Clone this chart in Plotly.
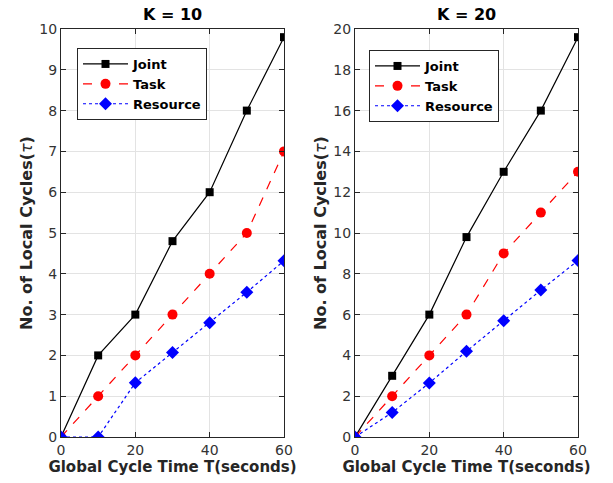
import plotly.graph_objects as go
from plotly.subplots import make_subplots

x_vals = [0, 10, 20, 30, 40, 50, 60]

k10_joint = [0, 2, 3, 4.8, 6, 8, 9.8]
k10_task = [0, 1, 2, 3, 4, 5, 7]
k10_resource = [0, 0, 1.33, 2.07, 2.8, 3.55, 4.32]

k20_joint = [0, 3, 6, 9.8, 13, 16, 19.6]
k20_task = [0, 2, 4, 6, 9, 11, 13]
k20_resource = [0, 1.2, 2.65, 4.2, 5.7, 7.2, 8.65]

titles = ["K = 10", "K = 20"]
series_names = ["Joint", "Task", "Resource"]
x_ticks = [0, 20, 40, 60]
k10_ticks = list(range(0, 11, 1))
k20_ticks = list(range(0, 21, 2))

W, H = 613, 483
fig = make_subplots(rows=1, cols=2)

styles = [
    dict(color="black", dash="solid", symbol="square", size=8),
    dict(color="red", dash="dash", symbol="circle", size=10),
    dict(color="blue", dash="dot", symbol="diamond", size=10),
]

data = [[k10_joint, k10_task, k10_resource], [k20_joint, k20_task, k20_resource]]
for c, group in enumerate(data):
    for name, ys, st in zip(series_names, group, styles):
        fig.add_trace(
            go.Scatter(
                x=x_vals, y=ys, name=name, mode="lines+markers",
                line=dict(color=st["color"], dash=st["dash"], width=1.2),
                marker=dict(color=st["color"], symbol=st["symbol"], size=st["size"]),
                legend="legend" if c == 0 else "legend2",
                showlegend=True,
            ),
            row=1, col=c + 1,
        )

ydom = [1 - 437 / H, 1 - 29 / H]
xdoms = [[61 / W, 284 / W], [355 / W, 578 / W]]
tickfont = dict(family="DejaVu Sans", size=14, color="#333333")
titlefont = dict(family="DejaVu Sans", size=15, color="#262626")

for i in range(2):
    ax = "" if i == 0 else "2"
    fig.layout["xaxis" + ax].update(
        domain=xdoms[i], range=[0, 60], tickvals=x_ticks, automargin=False,
        showline=True, linecolor="#262626", linewidth=1, mirror="ticks",
        ticks="inside", ticklen=5, tickcolor="#262626",
        showgrid=True, gridcolor="#e3e3e3", zeroline=False,
        tickfont=tickfont,
        title=dict(text="<b>Global Cycle Time T(seconds)</b>", font=titlefont, standoff=2),
    )
    yticks = k10_ticks if i == 0 else k20_ticks
    fig.layout["yaxis" + ax].update(
        domain=ydom, range=[0, yticks[-1]], tickvals=yticks, automargin=False,
        showline=True, linecolor="#262626", linewidth=1, mirror="ticks",
        ticks="inside", ticklen=5, tickcolor="#262626",
        showgrid=True, gridcolor="#e3e3e3", zeroline=False,
        tickfont=tickfont,
        title=dict(text="<b>No. of Local Cycles(</b><i>τ</i><b>)</b>", font=dict(family="DejaVu Sans", size=16, color="#262626"), standoff=2),
    )

for i, t in enumerate(titles):
    cx = (xdoms[i][0] + xdoms[i][1]) / 2
    fig.add_annotation(
        text="<b>" + t + "</b>", x=cx, y=1 - 15 / H, xref="paper", yref="paper",
        showarrow=False, font=dict(family="DejaVu Sans", size=16, color="black"),
        xanchor="center", yanchor="middle",
    )

legend_common = dict(
    bgcolor="white", bordercolor="#262626", borderwidth=1,
    font=dict(family="DejaVu Sans", size=13, color="black", weight="bold"),
    tracegroupgap=0, itemwidth=45, yanchor="top", xanchor="left",
)
fig.update_layout(
    width=W, height=H,
    margin=dict(l=0, r=0, t=0, b=0),
    plot_bgcolor="white", paper_bgcolor="white",
    legend=dict(x=77 / W, y=1 - 48 / H, **legend_common),
    legend2=dict(x=369 / W, y=1 - 50 / H, **legend_common),
)

fig.write_html("out.html")
